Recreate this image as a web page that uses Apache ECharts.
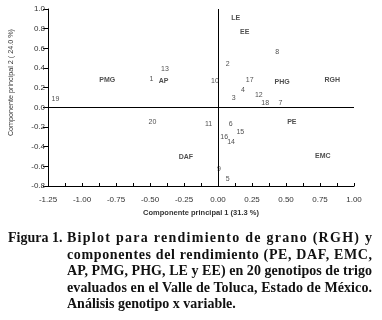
<!DOCTYPE html>
<html><head><meta charset="utf-8">
<script src="https://cdn.jsdelivr.net/npm/echarts@6/dist/echarts.min.js"></script>
<style>
html,body{margin:0;padding:0;background:#fff;}
#wrap{position:relative;width:382px;height:320px;overflow:hidden;}
#chart{position:absolute;left:0;top:0;width:382px;height:320px;}
#cap{position:absolute;left:0;top:0;width:382px;height:320px;font-family:"Liberation Serif","Times New Roman",serif;font-weight:bold;font-size:14px;color:#111;}
#cap .fig{position:absolute;left:8px;top:229px;line-height:17px;white-space:nowrap;}
#cap .ln{position:absolute;left:67px;white-space:nowrap;line-height:17px;}
</style>
</head><body>
<div id="wrap"><div id="chart"></div><div id="cap"></div></div>
<script>
// genotypes (labels are numbers)
const genoLabels = ['1','2','3','4','5','6','7','8','9','10','11','12','13','14','15','16','17','18','19','20'];
const genoX = [-0.49, 0.071, 0.115, 0.184, 0.071, 0.093, 0.46, 0.435, 0.007, -0.022, -0.069, 0.30, -0.39, 0.096, 0.164, 0.046, 0.233, 0.347, -1.195, -0.482];
const genoY = [0.285, 0.445, 0.098, 0.177, -0.73, -0.17, 0.044, 0.56, -0.63, 0.27, -0.17, 0.126, 0.39, -0.354, -0.252, -0.30, 0.28, 0.044, 0.08, -0.153];
// variables
const varLabels = ['RGH','PE','DAF','EMC','AP','PMG','PHG','LE','EE'];
const varX = [0.84, 0.543, -0.236, 0.771, -0.40, -0.814, 0.472, 0.13, 0.196];
const varY = [0.28, -0.15, -0.51, -0.494, 0.268, 0.275, 0.26, 0.91, 0.77];
// axes
const xMin = -1.25, xMax = 1.0, xStep = 0.125;
const yMin = -0.8, yMax = 1.0, yStep = 0.2;
const xTitle = 'Componente principal 1 (31.3 %)';
const yTitle = 'Componente principal 2 ( 24.0 %)';
const captionFig = 'Figura 1.';
const captionLines = [
 'Biplot para rendimiento de grano (RGH) y',
 'componentes del rendimiento (PE, DAF, EMC,',
 'AP, PMG, PHG, LE y EE) en 20 genotipos de trigo',
 'evaluados en el Valle de Toluca, Estado de México.',
 'Análisis genotipo x variable.'
];

const chart = echarts.init(document.getElementById('chart'), null, {renderer:'canvas'});
const mk = (labels, xs, ys) => labels.map((l,i)=>({value:[xs[i], ys[i]], name:l}));
chart.setOption({
  animation:false,
  backgroundColor:'#fff',
  grid:{left:48, right:28, top:9, bottom:134},
  xAxis:{type:'value', min:xMin, max:xMax, interval:xStep,
    axisLine:{onZero:false, lineStyle:{color:'#000', width:1}},
    axisTick:{show:true, inside:true, length:3, lineStyle:{color:'#000'}},
    axisLabel:{margin:10, color:'#333', fontSize:8, fontFamily:'Arial, Liberation Sans',
      formatter:v=>{const k=Math.round(v/0.125); return k%2===0? v.toFixed(2):'';}},
    splitLine:{show:false},
    name:xTitle, nameLocation:'middle', nameGap:22,
    nameTextStyle:{color:'#333', fontSize:7.5, fontWeight:'bold', fontFamily:'Arial, Liberation Sans'}
  },
  yAxis:{type:'value', min:yMin, max:yMax, interval:yStep,
    axisLine:{onZero:false, lineStyle:{color:'#000', width:1}},
    axisTick:{show:true, inside:false, length:5, lineStyle:{color:'#000'}},
    axisLabel:{margin:3, color:'#333', fontSize:8, fontFamily:'Arial, Liberation Sans', formatter:v=>v.toFixed(1)},
    splitLine:{show:false}
  },
  graphic:[{type:'text', left:8, top:29, rotation:Math.PI/2, originX:0, originY:0,
    style:{text:yTitle, fill:'#333', font:'7.2px Arial, Liberation Sans'}}],
  series:[
    {type:'scatter', symbolSize:0, data:mk(genoLabels, genoX, genoY),
     label:{show:true, position:'inside', formatter:'{b}', color:'#222', fontSize:7, fontFamily:'Arial, Liberation Sans'},
     markLine:{silent:true, symbol:'none', label:{show:false}, lineStyle:{color:'#000', width:1, type:'solid'},
       data:[{xAxis:0},{yAxis:0}]}},
    {type:'scatter', symbolSize:0, data:mk(varLabels, varX, varY),
     label:{show:true, position:'inside', formatter:'{b}', color:'#222', fontSize:7, fontWeight:'bold', fontFamily:'Arial, Liberation Sans'}}
  ]
});

// caption (HTML text)
const cap = document.getElementById('cap');
const fig = document.createElement('div'); fig.className='fig'; fig.textContent=captionFig; cap.appendChild(fig);
const targetW = 305;
captionLines.forEach((t,i)=>{
  const d=document.createElement('div'); d.className='ln'; d.textContent=t; d.style.top=(229+i*16.5)+'px';
  cap.appendChild(d);
  if(i<captionLines.length-1){
    const w=d.getBoundingClientRect().width;
    const n=t.length-1;
    d.style.letterSpacing=((targetW-w)/n)+'px';
  }
});
</script>
</body></html>
